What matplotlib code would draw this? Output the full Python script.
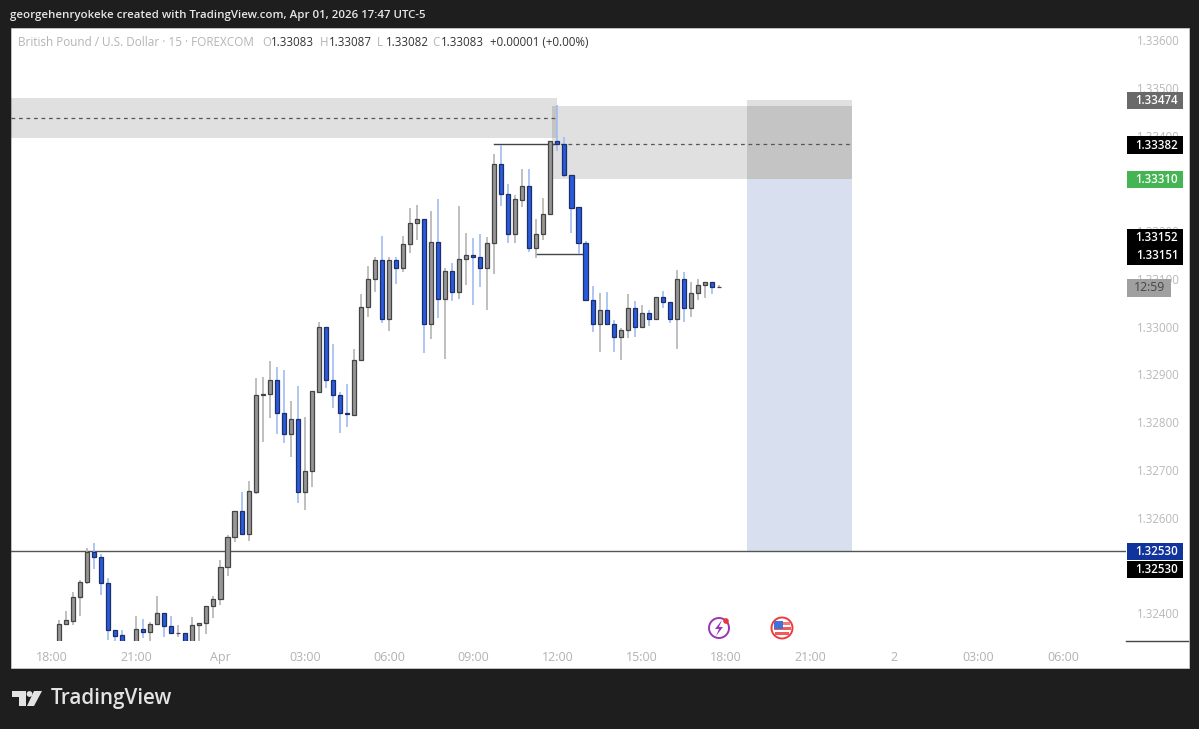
import numpy as np
import matplotlib
matplotlib.use("Agg")
import matplotlib.pyplot as plt
from matplotlib.patches import Rectangle, Circle, Polygon

plt.rcParams["font.family"] = ["Open Sans", "DejaVu Sans"]

W, H = 1199, 729

# GBPUSD 15m candles
opens = [1.32335, 1.32377, 1.32383, 1.32434, 1.32465, 1.32528, 1.32518, 1.32463, 1.32365, 1.32354, 1.32335, 1.32335,
         1.32367, 1.32360, 1.32377, 1.32400, 1.32373, 1.32358, 1.32358, 1.32335, 1.32375, 1.32379, 1.32415, 1.32430,
         1.32497, 1.32559, 1.32614, 1.32566, 1.32654, 1.32857, 1.32859, 1.32888, 1.32819, 1.32775, 1.32806, 1.32654,
         1.32698, 1.32863, 1.32999, 1.32888, 1.32857, 1.32819, 1.32815, 1.32930, 1.33041, 1.33100, 1.33139, 1.33016,
         1.33139, 1.33123, 1.33173, 1.33217, 1.33225, 1.33005, 1.33177, 1.33058, 1.33116, 1.33072, 1.33142, 1.33150,
         1.33146, 1.33123, 1.33175, 1.33341, 1.33278, 1.33194, 1.33265, 1.33294, 1.33165, 1.33194, 1.33236, 1.33389,
         1.33382, 1.33317, 1.33250, 1.33175, 1.33056, 1.33005, 1.33035, 1.33005, 1.32978, 1.32993, 1.33039, 1.32999,
         1.33028, 1.33016, 1.33062, 1.33052, 1.33016, 1.33100, 1.33039, 1.33070, 1.33087, 1.33093, 1.33082]
highs = [1.32386, 1.32404, 1.32444, 1.32469, 1.32536, 1.32547, 1.32524, 1.32474, 1.32366, 1.32365, 1.32338, 1.32394,
         1.32388, 1.32381, 1.32436, 1.32400, 1.32394, 1.32375, 1.32359, 1.32392, 1.32379, 1.32415, 1.32436, 1.32511,
         1.32564, 1.32614, 1.32654, 1.32677, 1.32892, 1.32894, 1.32928, 1.32915, 1.32909, 1.32844, 1.32876, 1.32811,
         1.32865, 1.33010, 1.32999, 1.32964, 1.32863, 1.32880, 1.32953, 1.33068, 1.33127, 1.33146, 1.33190, 1.33146,
         1.33146, 1.33190, 1.33248, 1.33255, 1.33225, 1.33242, 1.33267, 1.33123, 1.33133, 1.33253, 1.33196, 1.33186,
         1.33194, 1.33188, 1.33361, 1.33380, 1.33299, 1.33276, 1.33330, 1.33330, 1.33225, 1.33269, 1.33389, 1.33464,
         1.33397, 1.33317, 1.33250, 1.33179, 1.33085, 1.33070, 1.33072, 1.33014, 1.32997, 1.33068, 1.33054, 1.33045,
         1.33035, 1.33062, 1.33075, 1.33052, 1.33119, 1.33114, 1.33093, 1.33100, 1.33093, 1.33093, 1.33087]
lows = [1.32330, 1.32375, 1.32375, 1.32394, 1.32461, 1.32492, 1.32438, 1.32344, 1.32342, 1.32330, 1.32320, 1.32330,
        1.32348, 1.32340, 1.32377, 1.32350, 1.32358, 1.32350, 1.32330, 1.32330, 1.32340, 1.32356, 1.32390, 1.32417,
        1.32478, 1.32549, 1.32566, 1.32551, 1.32649, 1.32758, 1.32809, 1.32775, 1.32756, 1.32727, 1.32631, 1.32616,
        1.32664, 1.32861, 1.32871, 1.32830, 1.32777, 1.32790, 1.32815, 1.32930, 1.33020, 1.33072, 1.33008, 1.32991,
        1.33089, 1.33114, 1.33154, 1.33181, 1.32945, 1.32974, 1.33018, 1.32932, 1.33054, 1.33058, 1.33087, 1.33045,
        1.33083, 1.33035, 1.33110, 1.33253, 1.33175, 1.33175, 1.33250, 1.33156, 1.33144, 1.33181, 1.33236, 1.33368,
        1.33313, 1.33196, 1.33152, 1.33056, 1.32989, 1.32947, 1.33005, 1.32947, 1.32930, 1.32976, 1.32978, 1.32999,
        1.33001, 1.33016, 1.33039, 1.33008, 1.32953, 1.33010, 1.33020, 1.33056, 1.33060, 1.33068, 1.33082]
closes = [1.32377, 1.32386, 1.32434, 1.32465, 1.32528, 1.32518, 1.32463, 1.32365, 1.32352, 1.32338, 1.32325, 1.32367,
          1.32360, 1.32377, 1.32400, 1.32373, 1.32358, 1.32359, 1.32338, 1.32375, 1.32379, 1.32415, 1.32430, 1.32497,
          1.32559, 1.32614, 1.32566, 1.32656, 1.32857, 1.32859, 1.32888, 1.32819, 1.32775, 1.32806, 1.32654, 1.32698,
          1.32865, 1.32999, 1.32888, 1.32857, 1.32819, 1.32817, 1.32930, 1.33041, 1.33100, 1.33139, 1.33016, 1.33139,
          1.33123, 1.33173, 1.33217, 1.33225, 1.33005, 1.33177, 1.33058, 1.33116, 1.33072, 1.33142, 1.33150, 1.33146,
          1.33123, 1.33175, 1.33341, 1.33278, 1.33194, 1.33267, 1.33294, 1.33165, 1.33194, 1.33236, 1.33389, 1.33382,
          1.33317, 1.33248, 1.33175, 1.33056, 1.33005, 1.33035, 1.33005, 1.32978, 1.32993, 1.33039, 1.32999, 1.33028,
          1.33016, 1.33062, 1.33052, 1.33016, 1.33100, 1.33039, 1.33070, 1.33087, 1.33093, 1.33082, 1.33083]

time_ticks = [0, 12, 24, 36, 48, 60, 72, 84, 96, 108, 120, 132, 144]
time_labels = ["18:00", "21:00", "Apr", "03:00", "06:00", "09:00", "12:00", "15:00", "18:00", "21:00", "2", "03:00", "06:00"]
# 1.32500 and 1.33300 sit fully behind the price tags
price_ticks = [1.324, 1.326, 1.327, 1.328, 1.329, 1.330, 1.331, 1.332, 1.334, 1.335, 1.336]

level_stop = 1.33474
level_entry = 1.33382
level_zone = 1.33310
level_low = 1.33151
level_target = 1.32530
left_zone_bottom = 1.33395
left_zone_top = 1.33479
left_zone_mid = 1.33437
right_zone_top = 1.33462

# text, price, shift in px, background, text colour
price_tags = [("1.33474", level_stop, 0.5, "#696969", "white"),
              ("1.33382", level_entry, 1, "#000000", "white"),
              ("1.33310", level_zone, 1, "#45b553", "white"),
              ("1.33152", 1.33152, -16, "#000000", "white"),
              ("1.33151", level_low, 1.5, "#000000", "white"),
              ("1.32530", level_target, 0.5, "#10339c", "white"),
              ("1.32530", level_target, 18.5, "#000000", "white")]

fig = plt.figure(figsize=(W / 100, H / 100), dpi=100, facecolor="#1e1e1e")

# overlay in picture pixels for the frame, header and logo
bg = fig.add_axes([0, 0, 1, 1], zorder=0)
bg.set_xlim(0, W)
bg.set_ylim(H, 0)
bg.axis("off")
bg.add_patch(Rectangle((10.5, 27.5), 1178, 640.5, fc="white", ec="#c8c8c8", lw=0.6))
bg.plot([1126, 1188], [641, 641], color="#444444", lw=1)

ax = fig.add_axes([11 / W, 1 - 641 / H, 1115 / W, 613 / H], zorder=1)
ax.patch.set_alpha(0)
ax.set_xlim((11 - 52) / 7.02, (1126 - 52) / 7.02)
ax.set_ylim(1.32342, 1.33625)
for s in ax.spines.values():
    s.set_visible(False)

# zones, translucent so that overlaps come out darker
zone = dict(fc="black", alpha=0.12, ec="none", zorder=1)
ax.add_patch(Rectangle((-5.84, left_zone_bottom), 77.84, left_zone_top - left_zone_bottom, **zone))
ax.add_patch(Rectangle((71.2, level_zone), 42.8, right_zone_top - level_zone, **zone))
ax.add_patch(Rectangle((99, level_zone), 15, level_stop - level_zone, **zone))
ax.add_patch(Rectangle((99, level_target), 15, level_zone - level_target, fc="#d8e0f0", ec="none", zorder=1))
ax.plot([-5.84, 72], [left_zone_mid, left_zone_mid], color="#555555", lw=0.9, ls=(0, (3, 3)), zorder=1.5)
ax.plot([71.4, 113.7], [level_entry, level_entry], color="#555555", lw=0.9, ls=(0, (3, 3)), zorder=1.5)
ax.axhline(level_target, color="#555555", lw=1, zorder=1.5)
ax.plot([63, 71.5], [level_entry, level_entry], color="#444444", lw=1, zorder=1.6)
ax.plot([69, 76], [level_low, level_low], color="#444444", lw=1, zorder=1.6)

# candles
o = np.array(opens)
c = np.array(closes)
idx = np.arange(1, len(o) + 1)
up = c >= o
ax.vlines(idx[up], np.array(lows)[up], np.array(highs)[up], color="#b4b4b4", lw=1.2, zorder=2)
ax.vlines(idx[~up], np.array(lows)[~up], np.array(highs)[~up], color="#a3bbf2", lw=1.2, zorder=2)
ax.bar(idx[up], (c - o)[up], bottom=o[up], width=0.58, color="#969696", edgecolor="#444444", lw=0.9, zorder=3)
ax.bar(idx[~up], (c - o)[~up], bottom=o[~up], width=0.58, color="#2a5bdc", edgecolor="#1c2f66", lw=0.9, zorder=3)

# axes labels
ax.set_xticks(time_ticks)
ax.set_xticklabels(time_labels)
ax.yaxis.tick_right()
ax.set_yticks(price_ticks)
ax.set_yticklabels(["%.5f" % p for p in price_ticks])
ax.tick_params(axis="x", length=0, pad=7, labelsize=9, labelcolor="#b2b2b2")
ax.tick_params(axis="y", length=0, pad=8, labelsize=8.3, labelcolor="#b9b9b9")

# price tags on the right scale
per_px = (1.33625 - 1.32342) / 613
tag_w = 56 / 1115
for txt, price, shift, col, tc in price_tags:
    yc = price - shift * per_px
    ax.add_patch(Rectangle((1 + 1 / 1115, yc - 8.8 * per_px), tag_w, 17.6 * per_px, fc=col, ec="none",
                           transform=ax.get_yaxis_transform(), clip_on=False, zorder=6))
    ax.text(1 + 31 / 1115, yc, txt, color=tc, fontsize=8.3, ha="center", va="center", weight="semibold",
            transform=ax.get_yaxis_transform(), clip_on=False, zorder=7)
ax.add_patch(Rectangle((1 + 1 / 1115, 1.33083 - 10 * per_px), 44 / 1115, 18 * per_px, fc="#a0a0a0", ec="none",
                       transform=ax.get_yaxis_transform(), clip_on=False, zorder=6))
ax.text(1 + 23 / 1115, 1.33083 - per_px, "12:59", color="#454545", fontsize=8.8, ha="center", va="center",
        transform=ax.get_yaxis_transform(), clip_on=False, zorder=7)

# header and legend, on a top overlay
top = fig.add_axes([0, 0, 1, 1], zorder=5)
top.set_xlim(0, W)
top.set_ylim(H, 0)
top.axis("off")
top.text(10, 15, "georgehenryokeke created with TradingView.com, Apr 01, 2026 17:47 UTC-5", color="#e8e8e8",
         fontsize=8.25, va="center", weight="semibold")
top.text(18, 42, "British Pound / U.S. Dollar · 15 · FOREXCOM", color="#b4b4b4", fontsize=8.45, va="center")
for xp, let, val in [(262, "O", "1.33083"), (320, "H", "1.33087"), (377, "L", "1.33082"), (432, "C", "1.33083")]:
    top.text(xp, 42, let, color="#b4b4b4", fontsize=8.3, va="center", ha="left")
    top.text(xp + 8.5, 42, val, color="#333333", fontsize=8.3, va="center")
top.text(490, 42, "+0.00001 (+0.00%)", color="#333333", fontsize=8.3, va="center")

# TradingView logo
top.add_patch(Polygon([(12, 691), (26, 691), (26, 706), (19, 706), (19, 697), (12, 697)], fc="#e3e3e3", ec="none"))
top.add_patch(Circle((29.5, 694), 2.9, fc="#e3e3e3", ec="none"))
top.add_patch(Polygon([(34, 691), (42, 691), (34, 706), (27, 706)], fc="#e3e3e3", ec="none"))
top.text(50.5, 698.5, "TradingView", color="#e3e3e3", fontsize=14.9, va="center", weight="semibold")

# event icons
top.add_patch(Circle((719, 628), 10, fc="white", ec="#9a35b8", lw=1.4))
top.add_patch(Polygon([(722, 620), (715, 629), (719, 629), (716, 636), (723, 627), (719, 627)], fc="#9a35b8", ec="none"))
top.add_patch(Circle((726, 621), 2.8, fc="#e53935", ec="none"))
top.add_patch(Circle((782, 628), 10.5, fc="white", ec="#ef3b3b", lw=1.4))
top.add_patch(Rectangle((775, 622), 15, 3, fc="#ef7b7b", ec="none"))
top.add_patch(Rectangle((774, 627), 17, 3, fc="#ef5b5b", ec="none"))
top.add_patch(Rectangle((775, 632), 14, 2.5, fc="#ef5b5b", ec="none"))
top.add_patch(Rectangle((774, 621), 9, 8, fc="#3f73d8", ec="none"))

fig.savefig("out.png", dpi=100, facecolor=fig.get_facecolor())
